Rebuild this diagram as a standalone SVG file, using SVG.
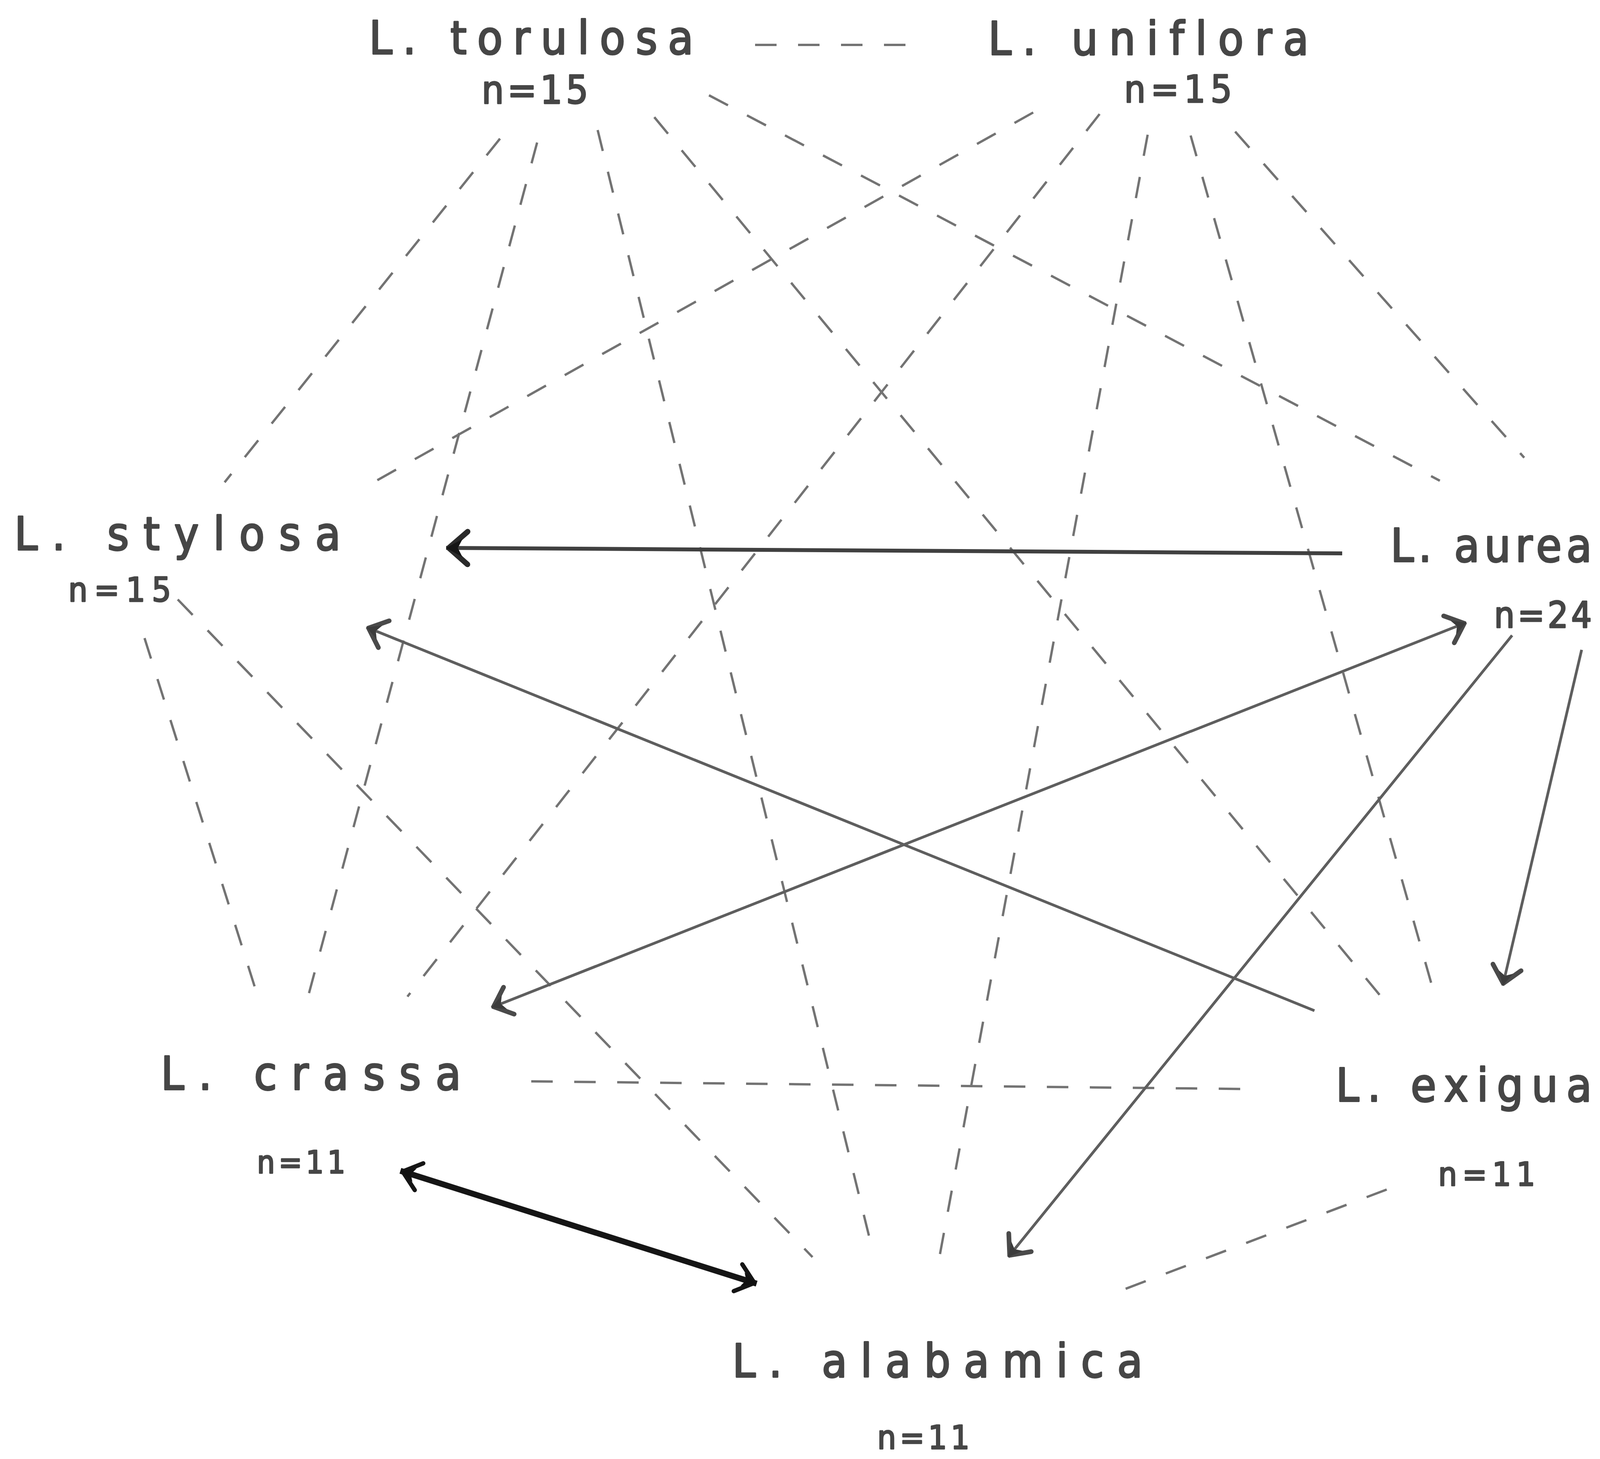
<svg xmlns="http://www.w3.org/2000/svg" width="4437" height="3736" viewBox="0 0 4437 3736">
<style>
.lbl{font-family:"DejaVu Sans Condensed","DejaVu Sans",sans-serif;font-size:118px;fill:#464646;stroke:#464646;stroke-width:4;stroke-linejoin:round;font-variant-ligatures:none}
.num{font-family:"DejaVu Sans Condensed","DejaVu Sans",sans-serif;fill:#464646;stroke:#464646;stroke-width:3.5;stroke-linejoin:round;font-variant-ligatures:none}
.dash{stroke:#737373;stroke-width:6;stroke-dasharray:55 55;fill:none}
.solid{stroke:#5e5e5e;stroke-width:7;fill:none}
.mid{stroke:#404040;stroke-width:10;fill:none}
.thick{stroke:#151515;stroke-width:15;fill:none}
</style>
<defs>
<marker id="arrThin" markerUnits="userSpaceOnUse" viewBox="-80 -60 100 120" markerWidth="100" markerHeight="120" refX="0" refY="0" orient="auto-start-reverse">
<path d="M-48,-37 L-6,0 L-48,37" fill="none" stroke="#4a4a4a" stroke-width="12" stroke-linecap="round" stroke-linejoin="round"/>
<path d="M0,0 L-36,-19 L-26,0 L-36,19 Z" fill="#3c3c3c"/>
</marker>
<marker id="arrMid" markerUnits="userSpaceOnUse" viewBox="-80 -60 100 120" markerWidth="100" markerHeight="120" refX="0" refY="0" orient="auto-start-reverse">
<path d="M-55,-42 L-7,0 L-55,42" fill="none" stroke="#2a2a2a" stroke-width="14" stroke-linecap="round" stroke-linejoin="round"/>
<path d="M0,0 L-42,-23 L-30,0 L-42,23 Z" fill="#151515"/>
</marker>
<marker id="arrThick" markerUnits="userSpaceOnUse" viewBox="-80 -60 100 120" markerWidth="100" markerHeight="120" refX="0" refY="0" orient="auto-start-reverse">
<path d="M-50,-36 L-6,0 L-50,36" fill="none" stroke="#151515" stroke-width="11" stroke-linecap="round" stroke-linejoin="round"/>
<path d="M0,0 L-38,-18 L-28,0 L-38,18 Z" fill="#111"/>
</marker>
</defs>
<rect width="4437" height="3736" fill="#ffffff"/>
<g id="connectors">
<line class="dash" x1="1280" y1="355" x2="575" y2="1235"/>
<line class="dash" x1="1375" y1="365" x2="786" y2="2562"/>
<line class="dash" x1="1530" y1="333" x2="2232" y2="3195"/>
<line class="dash" x1="1675" y1="300" x2="3552" y2="2572"/>
<line class="dash" x1="1815" y1="244" x2="3686" y2="1231"/>
<line class="dash" x1="1933" y1="115" x2="2360" y2="115"/>
<line class="dash" x1="2645" y1="288" x2="942" y2="1243"/>
<line class="dash" x1="2815" y1="292" x2="1043" y2="2552"/>
<line class="dash" x1="2938" y1="345" x2="2404" y2="3224"/>
<line class="dash" x1="3048" y1="347" x2="3678" y2="2567"/>
<line class="dash" x1="3162" y1="337" x2="3902" y2="1172"/>
<line class="dash" x1="370" y1="1634" x2="661" y2="2555"/>
<line class="dash" x1="455" y1="1535" x2="2080" y2="3219"/>
<line class="dash" x1="1360" y1="2769" x2="3225" y2="2789"/>
<line class="dash" x1="3550" y1="3046" x2="2832" y2="3319"/>
<line class="mid" x1="3436" y1="1417" x2="1142" y2="1403" marker-end="url(#arrMid)"/>
<line class="solid" x1="3365" y1="2588" x2="938" y2="1606" marker-end="url(#arrThin)"/>
<line class="solid" x1="1258" y1="2580" x2="3754" y2="1594" marker-start="url(#arrThin)" marker-end="url(#arrThin)"/>
<line class="solid" x1="3871" y1="1627" x2="2581" y2="3219" marker-end="url(#arrThin)"/>
<line class="solid" x1="4049" y1="1664" x2="3847" y2="2524" marker-end="url(#arrThin)"/>
<line class="thick" x1="1025" y1="2998" x2="1937" y2="3287" marker-start="url(#arrThick)" marker-end="url(#arrThick)"/>
</g>
<g id="torulosa">
<text class="lbl" x="945" y="138" textLength="830" lengthAdjust="spacing">L. torulosa</text>
<text class="num" x="1233" y="265" font-size="100" textLength="273" lengthAdjust="spacing">n=15</text>
</g>
<g id="uniflora">
<text class="lbl" x="2530" y="140" textLength="820" lengthAdjust="spacing">L. uniflora</text>
<text class="num" x="2878" y="262" font-size="96" textLength="276" lengthAdjust="spacing">n=15</text>
</g>
<g id="stylosa">
<text class="lbl" x="37" y="1408" textLength="835" lengthAdjust="spacing">L. stylosa</text>
<text class="num" x="175" y="1540" font-size="86" textLength="263" lengthAdjust="spacing">n=15</text>
</g>
<g id="aurea">
<text class="lbl" x="3560" y="1438" font-size="112" textLength="515" lengthAdjust="spacing">L. aurea</text>
<text class="num" x="3825" y="1607" font-size="92" textLength="250" lengthAdjust="spacing">n=24</text>
</g>
<g id="crassa">
<text class="lbl" x="412" y="2790" textLength="768" lengthAdjust="spacing">L. crassa</text>
<text class="num" x="658" y="3004" font-size="80" textLength="226" lengthAdjust="spacing">n=11</text>
</g>
<g id="exigua">
<text class="lbl" x="3420" y="2820" textLength="655" lengthAdjust="spacing">L. exigua</text>
<text class="num" x="3682" y="3036" font-size="84" textLength="248" lengthAdjust="spacing">n=11</text>
</g>
<g id="alabamica">
<text class="lbl" x="1875" y="3526" textLength="1050" lengthAdjust="spacing">L. alabamica</text>
<text class="num" x="2246" y="3710" font-size="84" textLength="236" lengthAdjust="spacing">n=11</text>
</g>
</svg>
